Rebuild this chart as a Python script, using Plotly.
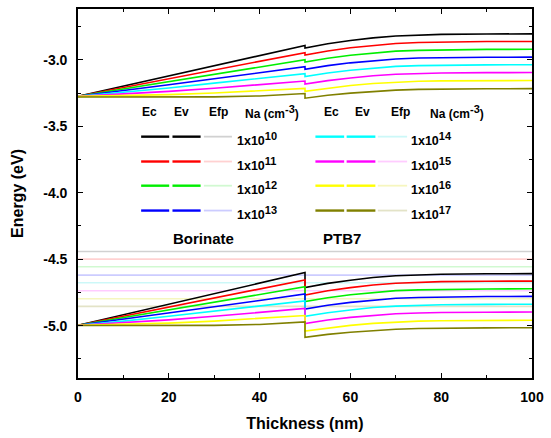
import plotly.graph_objects as go

# ---------------- data ----------------
x_left = [0, 10, 20, 30, 40, 50]
x_right = [50, 55, 60, 65, 70, 75, 80, 90, 100]
x_efp = [0, 100]

na_exponents = ["10", "11", "12", "13", "14", "15", "16", "17"]

# Conduction band (Ec), Borinate part (0-50 nm)
ec_l_10 = [-3.275, -3.198, -3.122, -3.045, -2.969, -2.892]
ec_l_11 = [-3.275, -3.209, -3.143, -3.078, -3.012, -2.946]
ec_l_12 = [-3.275, -3.220, -3.165, -3.110, -3.055, -3.000]
ec_l_13 = [-3.275, -3.233, -3.188, -3.143, -3.099, -3.052]
ec_l_14 = [-3.275, -3.246, -3.212, -3.176, -3.140, -3.104]
ec_l_15 = [-3.275, -3.259, -3.238, -3.214, -3.188, -3.160]
ec_l_16 = [-3.275, -3.270, -3.262, -3.250, -3.234, -3.215]
ec_l_17 = [-3.280, -3.281, -3.281, -3.279, -3.272, -3.254]
# Conduction band (Ec), PTB7 part (50-100 nm)
ec_r_10 = [-2.911, -2.879, -2.855, -2.835, -2.821, -2.813, -2.809, -2.806, -2.805]
ec_r_11 = [-2.965, -2.934, -2.910, -2.891, -2.877, -2.870, -2.866, -2.863, -2.862]
ec_r_12 = [-3.017, -2.988, -2.966, -2.948, -2.935, -2.929, -2.925, -2.922, -2.921]
ec_r_13 = [-3.072, -3.044, -3.023, -3.006, -2.994, -2.987, -2.984, -2.981, -2.980]
ec_r_14 = [-3.126, -3.099, -3.079, -3.062, -3.050, -3.044, -3.041, -3.038, -3.037]
ec_r_15 = [-3.183, -3.157, -3.137, -3.120, -3.109, -3.103, -3.099, -3.097, -3.096]
ec_r_16 = [-3.237, -3.213, -3.194, -3.179, -3.168, -3.162, -3.159, -3.157, -3.156]
ec_r_17 = [-3.289, -3.267, -3.251, -3.237, -3.228, -3.223, -3.220, -3.218, -3.217]

# Valence band (Ev), Borinate part
ev_l_10 = [-4.997, -4.918, -4.839, -4.760, -4.681, -4.601]
ev_l_11 = [-4.997, -4.929, -4.861, -4.792, -4.724, -4.656]
ev_l_12 = [-4.997, -4.939, -4.881, -4.824, -4.766, -4.708]
ev_l_13 = [-4.997, -4.952, -4.905, -4.858, -4.811, -4.762]
ev_l_14 = [-4.997, -4.966, -4.929, -4.891, -4.852, -4.814]
ev_l_15 = [-4.997, -4.979, -4.957, -4.930, -4.901, -4.871]
ev_l_16 = [-4.997, -4.991, -4.981, -4.966, -4.947, -4.924]
ev_l_17 = [-4.999, -5.000, -5.000, -4.998, -4.991, -4.972]
# Valence band (Ev), PTB7 part
ev_r_10 = [-4.713, -4.682, -4.658, -4.638, -4.625, -4.617, -4.613, -4.610, -4.609]
ev_r_11 = [-4.769, -4.738, -4.714, -4.694, -4.681, -4.673, -4.669, -4.666, -4.665]
ev_r_12 = [-4.819, -4.790, -4.768, -4.750, -4.737, -4.731, -4.727, -4.724, -4.723]
ev_r_13 = [-4.876, -4.847, -4.825, -4.807, -4.794, -4.788, -4.784, -4.781, -4.780]
ev_r_14 = [-4.930, -4.903, -4.882, -4.864, -4.853, -4.846, -4.843, -4.840, -4.839]
ev_r_15 = [-4.984, -4.958, -4.938, -4.922, -4.911, -4.905, -4.901, -4.899, -4.898]
ev_r_16 = [-5.041, -5.017, -4.998, -4.983, -4.972, -4.966, -4.963, -4.961, -4.960]
ev_r_17 = [-5.088, -5.066, -5.050, -5.036, -5.027, -5.022, -5.019, -5.017, -5.016]

# Quasi Fermi level for holes (Efp), flat
efp_levels = [-4.442, -4.500, -4.557, -4.620, -4.677, -4.738, -4.798, -4.855]

# axis ticks
x_tickvals = [0, 20, 40, 60, 80, 100]
x_ticktext = ["0", "20", "40", "60", "80", "100"]
y_tickvals = [-5.0, -4.5, -4.0, -3.5, -3.0]
y_ticktext = ["-5.0", "-4.5", "-4.0", "-3.5", "-3.0"]

# ---------------- style ----------------
colors = ["#000000", "#ff0000", "#00ee00", "#0000ff",
          "#00ffff", "#ff00ff", "#ffff00", "#808000"]
light = ["rgba(0,0,0,0.18)", "rgba(255,0,0,0.18)", "rgba(0,220,0,0.18)",
         "rgba(0,0,255,0.2)", "rgba(0,220,220,0.2)", "rgba(255,0,255,0.2)",
         "rgba(220,220,0,0.25)", "rgba(128,128,0,0.22)"]

ec_left = [ec_l_10, ec_l_11, ec_l_12, ec_l_13, ec_l_14, ec_l_15, ec_l_16, ec_l_17]
ec_right = [ec_r_10, ec_r_11, ec_r_12, ec_r_13, ec_r_14, ec_r_15, ec_r_16, ec_r_17]
ev_left = [ev_l_10, ev_l_11, ev_l_12, ev_l_13, ev_l_14, ev_l_15, ev_l_16, ev_l_17]
ev_right = [ev_r_10, ev_r_11, ev_r_12, ev_r_13, ev_r_14, ev_r_15, ev_r_16, ev_r_17]

FONT = "Arial, Liberation Sans, sans-serif"

fig = go.Figure()

for i in range(8):
    fig.add_trace(go.Scatter(x=x_efp, y=[efp_levels[i]] * 2, mode="lines",
                             line=dict(color=light[i], width=1.6),
                             showlegend=False, hoverinfo="skip"))
for i in range(8):
    fig.add_trace(go.Scatter(x=x_left + x_right, y=ec_left[i] + ec_right[i],
                             mode="lines", line=dict(color=colors[i], width=1.6),
                             showlegend=False))
    fig.add_trace(go.Scatter(x=x_left + x_right, y=ev_left[i] + ev_right[i],
                             mode="lines", line=dict(color=colors[i], width=1.6),
                             showlegend=False))

# ---------------- custom legend (layout decorations) ----------------
def px2x(px):
    return (px - 78) / 4.58

def py2y(py):
    return -3.0 - (py - 57.7) / 133.65

SUP = "<sup><span style='font-size:11px'>%s</span></sup>"

row_py = [135, 160, 184.3, 209.3]
blocks = [
    dict(seg=[(141.7, 170), (173.3, 201.7), (205, 233.3)], lab=236,
         hdr=[(150, "Ec"), (182, "Ev"), (220, "Efp"), (274, "Na (cm" + SUP % "-3" + ")")]),
    dict(seg=[(317.5, 346.5), (349, 378), (380.5, 410)], lab=412,
         hdr=[(334, "Ec"), (365, "Ev"), (403, "Efp"), (460, "Na (cm" + SUP % "-3" + ")")]),
]
for b, blk in enumerate(blocks):
    for (hx, ht) in blk["hdr"]:
        fig.add_annotation(x=px2x(hx), y=py2y(110), text=ht, showarrow=False,
                           xanchor="center", yanchor="middle",
                           font=dict(family=FONT, size=12, color="black", weight="bold"))
    for r in range(4):
        i = b * 4 + r
        yy = py2y(row_py[r])
        for k, (a, c) in enumerate(blk["seg"]):
            col = colors[i] if k < 2 else light[i]
            fig.add_shape(type="line", x0=px2x(a), x1=px2x(c), y0=yy, y1=yy,
                          xref="x", yref="y",
                          line=dict(color=col, width=2.4 if k < 2 else 1.8))
        fig.add_annotation(x=px2x(blk["lab"]), y=yy - 0.015,
                           text="1x10" + SUP % na_exponents[i],
                           showarrow=False, xanchor="left", yanchor="middle",
                           font=dict(family=FONT, size=12.5, color="black", weight="bold"))

fig.add_annotation(x=px2x(205), y=py2y(237), text="Borinate", showarrow=False,
                   xanchor="center", yanchor="middle",
                   font=dict(family=FONT, size=15, color="black", weight="bold"))
fig.add_annotation(x=px2x(344.5), y=py2y(237), text="PTB7", showarrow=False,
                   xanchor="center", yanchor="middle",
                   font=dict(family=FONT, size=15, color="black", weight="bold"))

axis_common = dict(showline=True, linewidth=1.6, linecolor="black", mirror="allticks",
                   ticks="inside", ticklen=5, tickwidth=1.3, tickcolor="black",
                   showgrid=False, zeroline=False,
                   tickfont=dict(family=FONT, size=14, color="black", weight="bold"))

fig.update_xaxes(range=[0, 100], tickvals=x_tickvals, ticktext=x_ticktext,
                 ticklabelstandoff=5,
                 minor=dict(ticks="inside", dtick=10, tick0=0, ticklen=3, tickwidth=1.3,
                            tickcolor="black", showgrid=False),
                 title=dict(text="Thickness (nm)", standoff=14,
                            font=dict(family=FONT, size=16, color="black", weight="bold")),
                 **axis_common)
fig.update_yaxes(range=[-5.394, -2.618], tickvals=y_tickvals, ticktext=y_ticktext,
                 ticklabelstandoff=6,
                 minor=dict(ticks="inside", dtick=0.25, tick0=-3.0, ticklen=3, tickwidth=1.3,
                            tickcolor="black", showgrid=False),
                 title=dict(text="Energy (eV)", standoff=16,
                            font=dict(family=FONT, size=16, color="black", weight="bold")),
                 **axis_common)

fig.update_layout(width=551, height=438, margin=dict(l=78, r=15, t=7, b=60),
                  paper_bgcolor="white", plot_bgcolor="white", showlegend=False)

fig.write_html("out.html")
